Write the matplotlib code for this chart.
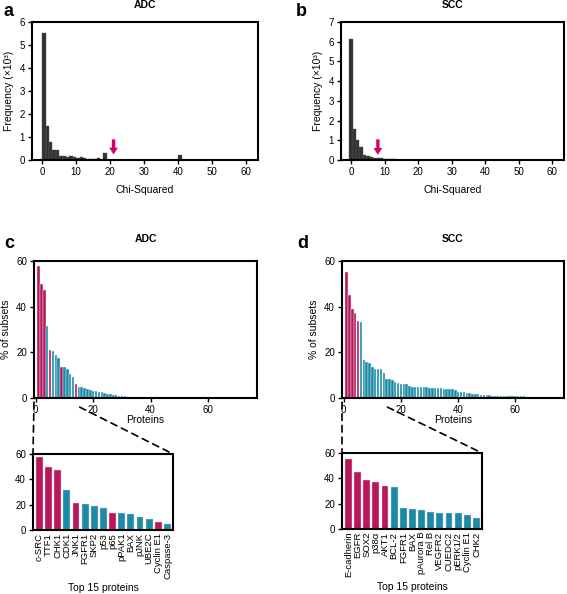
import matplotlib
matplotlib.use('Agg')
import matplotlib.pyplot as plt
from matplotlib.patches import ConnectionPatch

plt.rcParams['font.family'] = ['Liberation Sans', 'DejaVu Sans']
plt.rcParams['font.size'] = 7

# colores
MAGENTA = '#b8175b'
TEAL = '#1a8aa6'
ARROW = '#d4006b'
DARK = '#333333'

# histogramas chi-cuadrado (frecuencia x10^3 por bin de ancho 1)
adc_freq = [5.54, 1.5, 0.8, 0.43, 0.43, 0.19, 0.19, 0.15, 0.17, 0.12, 0.1,
            0.14, 0.07, 0.06, 0.04, 0.03, 0.08, 0.02, 0.32, 0, 0, 0, 0, 0,
            0, 0, 0, 0, 0, 0, 0, 0, 0, 0, 0, 0, 0, 0, 0, 0, 0.22]
scc_freq = [6.13, 1.58, 1.02, 0.68, 0.25, 0.18, 0.15, 0.12, 0.1, 0.08, 0.07,
            0.06, 0.05, 0.04, 0.02, 0.02, 0.01, 0.01, 0.01, 0.01, 0.01, 0.01,
            0.01, 0.01, 0.01, 0.01, 0.01, 0.01, 0.02, 0.01]
adc_arrow = 21
scc_arrow = 8

# top 15 proteinas
adc_top = ['c-SRC', 'TTF1', 'CHK1', 'CDK1', 'JNK1', 'FGFR1', 'SKP2', 'p53',
           'p65', 'pPAK1', 'BAX', 'pJNK', 'UBE2C', 'Cyclin E1', 'Caspase-3']
adc_top_vals = [58, 50, 47.5, 31.5, 21, 20.5, 19, 17.5, 13.5, 13.5, 12.5,
                10.5, 9, 6, 5]
adc_top_col = ['m', 'm', 'm', 't', 'm', 't', 't', 't', 'm', 't', 't', 't',
               't', 'm', 't']
adc_rest = [4.7, 4.5, 3.8, 3.4, 3.1, 2.9, 2.6, 2.5, 2.2, 1.9, 1.7, 1.5, 1.3,
            1.0, 0.9, 0.7, 0.6, 0.5, 0.4, 0.3, 0.3, 0.2, 0.2, 0.1, 0.1, 0.1,
            0.1]

scc_top = ['E-cadherin', 'EGFR', 'SOX2', 'p38α', 'AKT1', 'BCL-2', 'FGFR1',
           'BAX', 'pAurora B', 'Rel B', 'VEGFR2', 'CUEDC2', 'pERK1/2',
           'Cyclin E1', 'CHK2']
scc_top_vals = [55, 45, 39, 37.4, 33.7, 33.1, 16.5, 15.8, 15.3, 13.6, 12.9,
                12.9, 12.6, 11, 8.4]
scc_top_col = ['m', 'm', 'm', 'm', 'm', 't', 't', 't', 't', 't', 't', 't',
               't', 't', 't']
scc_rest = [8.4, 7.7, 6.8, 6.5, 6.3, 6.3, 6.2, 5.1, 5.0, 5.0, 5.0, 4.9, 4.9,
            4.8, 4.5, 4.5, 4.4, 4.3, 4.3, 4.0, 3.9, 3.8, 3.8, 3.7, 2.7, 2.6,
            2.5, 2.4, 2.2, 1.9, 1.8, 1.6, 1.3, 1.3, 1.2, 1.1, 1.0, 1.0, 1.0,
            0.9, 0.9, 0.9, 0.8, 0.8, 0.8, 0.7, 0.7, 0.7, 0.6, 0.5, 0.5, 0.4,
            0.4, 0.3, 0.3, 0.3, 0.2, 0.2, 0.1]

W, H = 567, 594
fig = plt.figure(figsize=(W / 100, H / 100), dpi=100)


def px(l, t, r, b):
    return [l / W, 1 - b / H, (r - l) / W, (b - t) / H]


def style(ax):
    for s in ax.spines.values():
        s.set_linewidth(1.5)
    ax.tick_params(direction='out', length=3, width=1, labelsize=7, pad=2)


ax_a = fig.add_axes(px(32, 22, 258, 160))
ax_b = fig.add_axes(px(341, 22, 564, 160))
ax_c = fig.add_axes(px(34, 261, 257, 398))
ax_d = fig.add_axes(px(342, 261, 564, 398))
ax_e = fig.add_axes(px(33, 454, 173, 530))
ax_f = fig.add_axes(px(342, 453, 482, 529))

# --- a / b: histogramas
for ax, freq, arr, ymax, start, title in [
        (ax_a, adc_freq, adc_arrow, 6, 0, 'ADC'),
        (ax_b, scc_freq, scc_arrow, 7, -0.5, 'SCC')]:
    xs = [start + i for i in range(len(freq))]
    ax.bar(xs, freq, width=1, align='edge', color=DARK, edgecolor='#555555', linewidth=0.3)
    ax.annotate('', xy=(arr, 0.12), xytext=(arr, ymax * 0.17),
                arrowprops=dict(arrowstyle='simple,head_width=0.9,head_length=0.7,tail_width=0.35',
                                color=ARROW, lw=0))
    ax.set_xlim(-3, 63.5)
    ax.set_ylim(0, ymax)
    ax.set_xticks(range(0, 61, 10))
    ax.set_yticks(range(0, ymax + 1))
    ax.set_xlabel('Chi-Squared', fontsize=7.5, labelpad=6)
    ax.set_ylabel('Frequency (×10³)', fontsize=7.5, labelpad=4)
    ax.set_title(title, fontsize=7.5, fontweight='bold', pad=10)
    style(ax)

# --- c / d: todas las proteinas
for ax, vals, cols, rest, title in [
        (ax_c, adc_top_vals, adc_top_col, adc_rest, 'ADC'),
        (ax_d, scc_top_vals, scc_top_col, scc_rest, 'SCC')]:
    allv = vals + rest
    colors = [MAGENTA if c == 'm' else TEAL for c in cols] + [TEAL] * len(rest)
    ax.bar(range(1, len(allv) + 1), allv, width=0.85, color=colors,
           edgecolor='#e8f4f8', linewidth=0.3)
    ax.set_xlim(-0.6, 77)
    ax.set_ylim(0, 60)
    ax.set_xticks([0, 20, 40, 60])
    ax.set_yticks([0, 20, 40, 60])
    ax.set_xlabel('Proteins', fontsize=7.5, labelpad=0)
    ax.set_ylabel('% of subsets', fontsize=7.5, labelpad=4)
    ax.set_title(title, fontsize=7.5, fontweight='bold', pad=14)
    style(ax)

# --- e / f: top 15
for ax, names, vals, cols, parent in [
        (ax_e, adc_top, adc_top_vals, adc_top_col, ax_c),
        (ax_f, scc_top, scc_top_vals, scc_top_col, ax_d)]:
    colors = [MAGENTA if c == 'm' else TEAL for c in cols]
    ax.bar(range(len(vals)), vals, width=0.75, color=colors,
           edgecolor='#f0d0e0', linewidth=0.3)
    ax.set_xlim(-0.7, 14.6)
    ax.set_ylim(0, 60)
    ax.set_yticks([0, 20, 40, 60])
    ax.set_xticks(range(len(names)))
    style(ax)
    ax.set_xticklabels(names, rotation=90, fontsize=6.8)
    ax.tick_params(axis='x', length=0, pad=2)
    ax.set_xlabel('Top 15 proteins', fontsize=7.5, labelpad=3)
    # lineas discontinuas de zoom
    for xa, xb in [((0, -0.03), (0, 1)), ((15.3, -4), (1, 1))]:
        if xa[0] == 0:
            con = ConnectionPatch(xyA=xa, coordsA=parent.transAxes, xyB=xb,
                                  coordsB=ax.transAxes, ls=(0, (4, 3)), lw=1.2,
                                  color='black')
        else:
            con = ConnectionPatch(xyA=xa, coordsA=parent.transData, xyB=xb,
                                  coordsB=ax.transAxes, ls=(0, (4, 3)), lw=1.2,
                                  color='black')
        fig.add_artist(con)

# letras de panel
for x, y, lab in [(4, 11, 'a'), (296, 11, 'b'), (4, 244, 'c'), (297, 244, 'd')]:
    fig.text(x / W, 1 - y / H, lab, fontsize=13, fontweight='bold', va='center')

fig.savefig('out.png', dpi=100)
